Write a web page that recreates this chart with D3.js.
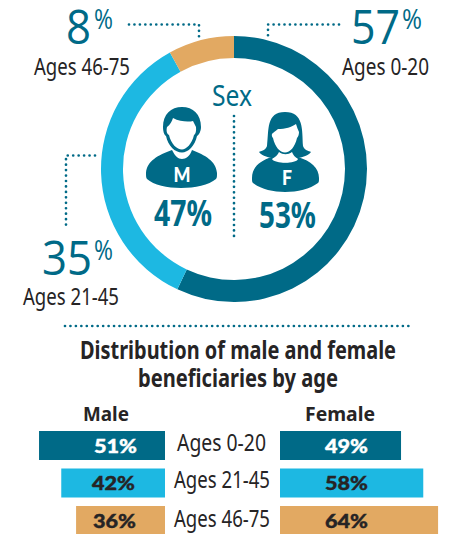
<!DOCTYPE html>
<html><head><meta charset="utf-8">
<script src="https://cdn.jsdelivr.net/npm/d3@7"></script>
<style>html,body{margin:0;padding:0;background:#fff}svg{display:block}text{font-family:"Noto Sans",sans-serif}</style>
</head><body><svg id="c" width="449" height="534"></svg>
<script>
const ageGroups=["Ages 0-20","Ages 21-45","Ages 46-75"];
const ageShares=[57,35,8];
const malePct=[51,42,36];
const femalePct=[49,58,64];
const sexLabels=["M","F"];
const sexPct=[47,53];
const colors=["#006a87","#1db8e2","#e2a962"];
const teal="#006a87", ink="#262425";
const svg=d3.select("#c");

// text squeezed to a given width, starting at x
function fit(s,x,y,w,size,fill,weight=400,family="Noto Sans"){
  return svg.append("text").attr("x",x).attr("y",y).attr("fill",fill).attr("font-size",size)
    .attr("font-weight",weight).style("font-family",`'${family}'`)
    .attr("textLength",w).attr("lengthAdjust","spacingAndGlyphs").text(s);
}

// donut
const pie=d3.pie().sort(null).value(d=>d);
const arc=d3.arc().innerRadius(111).outerRadius(133);
svg.append("g").attr("transform","translate(234,169)")
  .selectAll("path").data(pie(ageShares)).join("path").attr("d",arc).attr("fill",(d,i)=>colors[i]);

// dotted leaders
function dots(d){svg.append("path").attr("d",d).attr("fill","none").attr("stroke",teal)
  .attr("stroke-width",2.7).attr("stroke-linecap","round").attr("stroke-dasharray","0 5.45");}
dots("M339 24.5H268V37");
dots("M129 24.5H199V37");
dots("M95 155.5H66V230");
dots("M234 116V240");
dots("M65 326H413");

// big shares
function big(v,x,y,w,px,pw,label,lx,lw,ly){
  fit(String(v),x,y,w,47,teal,400,"Open Sans");
  fit("%",px,y-15,pw,28,teal,400,"Open Sans");
  fit(label,lx,ly,lw,23,ink);
}
big(ageShares[0],351,44,49,402,20,ageGroups[0],342,87,75);
big(ageShares[2],66,44,25,94,19,ageGroups[2],34,96,75);
big(ageShares[1],42,275,50,94,19,ageGroups[1],23,96,305);

fit("Sex",212,106,40,29,teal);

// male icon
const m=svg.append("g");
m.append("path").attr("fill",teal).attr("d","M146 173C147 161 158 155 172 150C175 156 178 159 182 159C186 159 190 156 192 150C205 155 216 161 217 173C217 176 217 178 216 179C202 191 160 191 147 179C146 178 146 176 146 173Z");
m.append("path").attr("fill",teal).attr("d","M163 127C163 114 171 107 182 107C193 107 201 114 201 127C201 131 199 135 197 136C195 146 188 152.5 182 152.5C175 152.5 168 146 166 136C164 135 163 131 163 127Z");
m.append("path").attr("fill","#fff").attr("d","M167 127C170 125 172 121 173 118C180 122 189 122 193 121C194 123 195 125 196 127C196.500 131 195.500 134 194 135C192 144 186 149.500 182 149.500C177 149.500 171 144 169 135C167 134 166 131 167 127Z");
// female icon
const f=svg.append("g");
f.append("path").attr("fill",teal).attr("d","M252 178C252 168 259 161 272 157C276 164 295 164 298 157C311 161 319 168 319 178C319 181 319 182 318 183C302 195 268 195 253 183C252 182 252 181 252 178Z");
f.append("path").attr("fill",teal).attr("d","M267 146C269 130 266 112 285 112C304 112 302 130 303 146C304 150 309 151 311 152C308 156 300 158 296 158L274 158C270 158 262 156 259 152C261 151 266 150 267 146Z");
f.append("path").attr("fill","#fff").attr("d","M273 133C275 131 277 130 278 129C285 129 292 127 296 124C297 127 298 130 299 132C299 135 298 137 297 138C295 147 290 152.500 285 152.500C280 152.500 275 147 273 138C272 137 271 134 273 133Z");
f.append("path").attr("fill","#fff").attr("d","M272 159C275 157 278 155 279 152C283 155 288 155 292 152C293 155 295 157 298 159C296 164 275 164 272 159Z");

fit(sexLabels[0],173.500,182,17,20,"#fff",900,"Lato");
fit(sexLabels[1],282,184.500,10,20,"#fff",900,"Lato");
fit(sexPct[0]+"%",154,226,58,36,teal,700);
fit(sexPct[1]+"%",259,228,57,36,teal,700);

// title
const titleLines=["Distribution of male and female","beneficiaries by age"];
fit(titleLines[0],80,359,316,25,ink,700);
fit(titleLines[1],138,387,200,25,ink,700);
fit("Male",83,421,46,19,ink,700);
fit("Female",305,421,70,19,ink,700);

// bars
const w=d3.scaleLinear().domain([0,100]).range([0,247]);
const y=d3.scaleBand().domain(ageGroups).range([431,535]).paddingInner(0.2267).paddingOuter(0).align(0);
const labelX=[[94,325],[92,325],[93,325]];
const ageX=[[177,89],[174,96],[174,96]];
ageGroups.forEach((a,i)=>{
  const b=y(a), h=y.bandwidth(), c=i===0?"#fff":ink;
  svg.append("rect").attr("x",165-w(malePct[i])).attr("y",b).attr("width",w(malePct[i])).attr("height",h).attr("fill",colors[i]);
  svg.append("rect").attr("x",280).attr("y",b).attr("width",w(femalePct[i])).attr("height",h).attr("fill",colors[i]);
  fit(malePct[i]+"%",labelX[i][0],b+21.500,43,19,c,900,"Lato").attr("stroke",c).attr("stroke-width",0.4);
  fit(femalePct[i]+"%",labelX[i][1],b+21.500,43,19,c,900,"Lato").attr("stroke",c).attr("stroke-width",0.4);
  fit(a,ageX[i][0],b+19.500+(i===2?1:0),ageX[i][1],23,ink);
});
</script></body></html>
